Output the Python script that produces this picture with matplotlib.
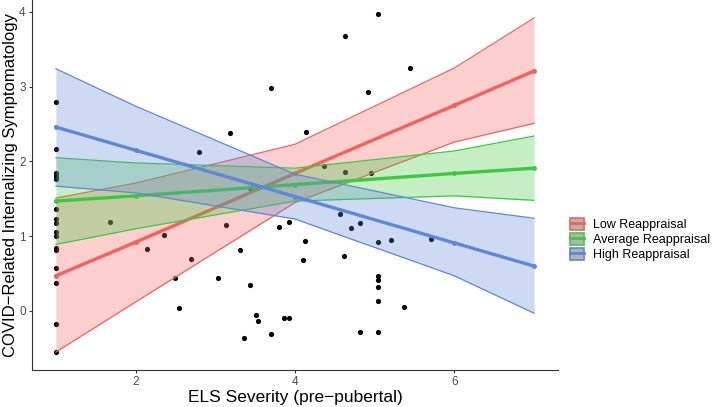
import matplotlib.pyplot as plt
from matplotlib.lines import Line2D
from matplotlib.patches import Patch

plt.rcParams["font.family"] = ["Liberation Sans", "DejaVu Sans"]

# observed points
els_x = [1, 1, 1, 1, 1, 1, 1, 1, 1, 1, 1, 1, 1, 1, 1, 1,
         3.70, 3.18, 2.80, 3.43, 5.04, 4.63, 4.92, 4.14, 4.37, 4.63, 4.96, 5.44,
         1.68, 2.14, 2.36, 2.49, 2.55, 2.69, 3.03, 3.14, 3.31, 3.36, 3.43, 3.51,
         3.53, 3.70, 3.80, 3.86, 3.92, 3.92, 4.12, 4.10, 4.56, 4.70, 4.82, 4.62,
         5.04, 5.21, 5.04, 5.04, 5.04, 5.04, 4.82, 5.04, 5.71, 5.37]
symptoms = [2.79, 2.16, 1.85, 1.81, 1.77, 1.36, 1.23, 1.17, 1.06, 1.00, 0.84, 0.81,
            0.57, 0.38, -0.18, -0.55,
            2.98, 2.38, 2.12, 1.64, 3.97, 3.68, 2.93, 2.40, 1.94, 1.86, 1.84, 3.25,
            1.19, 0.83, 1.02, 0.44, 0.04, 0.70, 0.44, 1.15, 0.82, -0.36, 0.35, -0.06,
            -0.13, -0.31, 1.12, -0.10, -0.10, 1.19, 0.94, 0.68, 1.30, 1.11, 1.17, 0.73,
            0.92, 0.95, 0.47, 0.41, 0.32, 0.13, -0.28, -0.28, 0.96, 0.05]

# model predictions
grid_x = [1, 2, 4, 6, 7]
low_fit = [0.47, 0.92, 1.84, 2.75, 3.21]
low_lo = [-0.55, 0.12, 1.45, 2.26, 2.51]
low_hi = [1.51, 1.71, 2.23, 3.25, 3.92]
avg_fit = [1.47, 1.54, 1.69, 1.84, 1.91]
avg_lo = [0.89, 1.10, 1.47, 1.54, 1.48]
avg_hi = [2.05, 1.98, 1.91, 2.14, 2.34]
high_fit = [2.46, 2.15, 1.53, 0.91, 0.60]
high_lo = [1.67, 1.58, 1.23, 0.47, -0.03]
high_hi = [3.24, 2.74, 1.83, 1.38, 1.24]

groups = ["Low Reappraisal", "Average Reappraisal", "High Reappraisal"]
colors = ["#F2615C", "#3FC83F", "#5F86D8"]

fig = plt.figure(figsize=(7.22, 4.07), dpi=100)
ax = fig.add_axes([0.0443, 0.0909, 0.7285, 0.9091])

ax.scatter(els_x, symptoms, s=14, color="black", zorder=1, linewidths=0)

bands = [(low_fit, low_lo, low_hi), (avg_fit, avg_lo, avg_hi), (high_fit, high_lo, high_hi)]
for (fit, lo, hi), col in zip(bands, colors):
    ax.fill_between(grid_x, lo, hi, color=col, alpha=0.3, linewidth=0, zorder=2)
    ax.plot(grid_x, lo, color=col, lw=0.9, zorder=2)
    ax.plot(grid_x, hi, color=col, lw=0.9, zorder=2)
    ax.plot(grid_x, fit, color=col, lw=2.4, marker="o", ms=2.5, zorder=2)

ax.set_xlim(0.7, 7.3)
ax.set_ylim(-0.79, 4.16)
ax.set_xticks([2, 4, 6])
ax.set_yticks([0, 1, 2, 3, 4])
for side in ["top", "right"]:
    ax.spines[side].set_visible(False)
for side in ["left", "bottom"]:
    ax.spines[side].set_color("#333333")
ax.tick_params(colors="#333333", labelcolor="#4D4D4D", labelsize=8.5, length=2.5, pad=2)
ax.set_xlabel("ELS Severity (pre\u2212pubertal)", fontsize=12.5, labelpad=1)
ax.set_ylabel("COVID\u2212Related Internalizing Symptomatology", fontsize=12, labelpad=1)

handles = [(Patch(facecolor="#B3B3B3", edgecolor=c, lw=1.2), Line2D([], [], color=c, lw=2))
           for c in colors]
fig.legend(handles, groups, loc="upper left", bbox_to_anchor=(0.783, 0.477),
           frameon=False, fontsize=9, handlelength=1.1, handleheight=1.15,
           handletextpad=0.7, labelspacing=0.12, borderaxespad=0)

fig.savefig("out.png", dpi=100)
plt.close(fig)
